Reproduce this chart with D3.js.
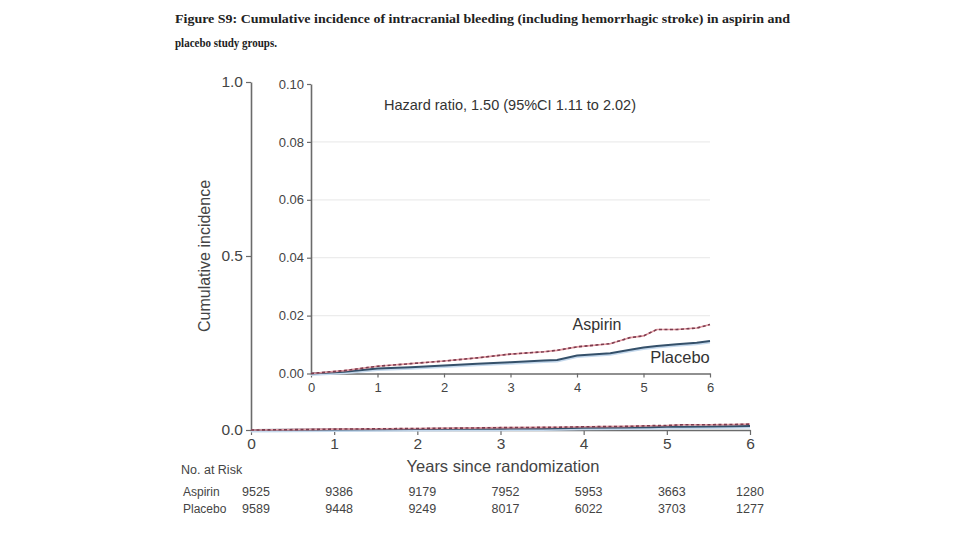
<!DOCTYPE html>
<html>
<head>
<meta charset="utf-8">
<script src="https://cdn.jsdelivr.net/npm/d3@7"></script>
<style>
  body { margin: 0; background: #fff; }
  svg { font-family: "Liberation Sans", Arial, sans-serif; }
</style>
</head>
<body>
<svg id="chart" width="960" height="540"></svg>
<script>
// data
const years = [0, 0.5, 1, 1.5, 2, 2.5, 3, 3.5, 3.7, 4, 4.5, 4.8, 5, 5.2, 5.5, 5.8, 6];
const aspirin = [0, 0.0010, 0.0025, 0.0034, 0.0043, 0.0054, 0.0067, 0.0075, 0.0080, 0.0092, 0.0103, 0.0124, 0.0130, 0.0152, 0.0152, 0.0157, 0.0169];
const placebo = [0, 0.0006, 0.0017, 0.0022, 0.0028, 0.0034, 0.0039, 0.0045, 0.0047, 0.0062, 0.0070, 0.0082, 0.0090, 0.0095, 0.0101, 0.0106, 0.0112];

const riskYears = [0, 1, 2, 3, 4, 5, 6];
const riskAspirin = [9525, 9386, 9179, 7952, 5953, 3663, 1280];
const riskPlacebo = [9589, 9448, 9249, 8017, 6022, 3703, 1277];

const mainYTicks = [0, 0.5, 1.0];
const insetYTicks = [0, 0.02, 0.04, 0.06, 0.08, 0.10];
const gridTicks = [0.02, 0.04, 0.06, 0.08];

const svg = d3.select('#chart');
const axisColor = '#6b6b6b';
const textColor = '#444';

// Title
svg.append('text')
  .attr('x', 175).attr('y', 23)
  .attr('font-family', '"Liberation Serif", "Times New Roman", serif')
  .attr('font-weight', 'bold').attr('font-size', '11.5px').attr('fill', '#222')
  .attr('textLength', 615).attr('lengthAdjust', 'spacingAndGlyphs')
  .text('Figure S9: Cumulative incidence of intracranial bleeding (including hemorrhagic stroke) in aspirin and');
svg.append('text')
  .attr('x', 175).attr('y', 47)
  .attr('font-family', '"Liberation Serif", "Times New Roman", serif')
  .attr('font-weight', 'bold').attr('font-size', '11.5px').attr('fill', '#222')
  .attr('textLength', 102).attr('lengthAdjust', 'spacingAndGlyphs')
  .text('placebo study groups.');

// Main plot scales
const x = d3.scaleLinear().domain([0, 6]).range([251, 750]);
const y = d3.scaleLinear().domain([0, 1]).range([430, 82]);

// Inset scales
const xi = d3.scaleLinear().domain([0, 6]).range([311, 710]);
const yi = d3.scaleLinear().domain([0, 0.10]).range([373.5, 84]);

function styleAxis(g, size) {
  g.select('.domain').attr('stroke', axisColor).attr('stroke-width', 1.6);
  g.selectAll('.tick line').attr('stroke', axisColor).attr('stroke-width', 1.2);
  g.selectAll('.tick text').attr('fill', textColor).attr('font-size', size)
    .attr('font-family', '"Liberation Sans", Arial, sans-serif');
}

// Main axes
const gxMain = svg.append('g')
  .attr('transform', 'translate(0,430)')
  .call(d3.axisBottom(x).tickValues(riskYears).tickFormat(d3.format('d')).tickSize(5).tickSizeOuter(0).tickPadding(3));
styleAxis(gxMain, '15.5px');

const gyMain = svg.append('g')
  .attr('transform', 'translate(251,0)')
  .call(d3.axisLeft(y).tickValues(mainYTicks).tickFormat(d3.format('.1f')).tickSize(5).tickSizeOuter(0).tickPadding(3));
styleAxis(gyMain, '15.5px');

svg.append('text')
  .attr('transform', 'translate(210,256) rotate(-90)')
  .attr('text-anchor', 'middle').attr('font-size', '16px').attr('fill', textColor)
  .text('Cumulative incidence');

svg.append('text')
  .attr('x', 503).attr('y', 472)
  .attr('text-anchor', 'middle').attr('font-size', '16.5px').attr('fill', textColor)
  .text('Years since randomization');

// Inset gridlines
svg.append('g').selectAll('line')
  .data(gridTicks)
  .join('line')
  .attr('x1', xi(0)).attr('x2', xi(6))
  .attr('y1', d => yi(d)).attr('y2', d => yi(d))
  .attr('stroke', '#ececec').attr('stroke-width', 1.2);

// Inset axes
const gxIn = svg.append('g')
  .attr('transform', `translate(0,${yi(0)})`)
  .call(d3.axisBottom(xi).tickValues(riskYears).tickFormat(d3.format('d')).tickSize(4).tickSizeOuter(0).tickPadding(5));
styleAxis(gxIn, '13px');

const gyIn = svg.append('g')
  .attr('transform', `translate(${xi(0)},0)`)
  .call(d3.axisLeft(yi).tickValues(insetYTicks).tickFormat(d3.format('.2f')).tickSize(4).tickSizeOuter(0).tickPadding(3));
styleAxis(gyIn, '13px');

svg.append('text')
  .attr('x', 510).attr('y', 110)
  .attr('text-anchor', 'middle').attr('font-size', '14.5px').attr('fill', '#333')
  .text('Hazard  ratio, 1.50 (95%CI 1.11 to 2.02)');

// Curves
function drawCurves(xs, ys, shadowOffset) {
  const line = d3.line().x((d, i) => xs(years[i])).y(d => ys(d));
  // placebo: light shadow + solid dark line
  svg.append('path').datum(placebo)
    .attr('d', line).attr('fill', 'none')
    .attr('stroke', '#c4d8ec').attr('stroke-width', 2)
    .attr('transform', `translate(0,${shadowOffset})`);
  svg.append('path').datum(placebo)
    .attr('d', line).attr('fill', 'none')
    .attr('stroke', '#34506a').attr('stroke-width', 2);
  // aspirin: faint red under dark dashes
  svg.append('path').datum(aspirin)
    .attr('d', line).attr('fill', 'none')
    .attr('stroke', '#e39aa2').attr('stroke-width', 1.6);
  svg.append('path').datum(aspirin)
    .attr('d', line).attr('fill', 'none')
    .attr('stroke', '#7a3c4e').attr('stroke-width', 1.6)
    .attr('stroke-dasharray', '3,2.5');
}

drawCurves(x, y, 1.5);
drawCurves(xi, yi, 1.5);

svg.append('text')
  .attr('x', 597).attr('y', 330)
  .attr('text-anchor', 'middle').attr('font-size', '16px').attr('fill', '#333')
  .text('Aspirin');
svg.append('text')
  .attr('x', 680).attr('y', 363)
  .attr('text-anchor', 'middle').attr('font-size', '16.5px').attr('fill', '#333')
  .text('Placebo');

// Number at risk table
svg.append('text')
  .attr('x', 181).attr('y', 474)
  .attr('font-size', '12.5px').attr('fill', textColor)
  .text('No. at Risk');

const rows = [
  { label: 'Aspirin', values: riskAspirin, y: 496 },
  { label: 'Placebo', values: riskPlacebo, y: 513 }
];

rows.forEach(row => {
  svg.append('text')
    .attr('x', 183).attr('y', row.y)
    .attr('font-size', '12px').attr('fill', textColor)
    .text(row.label);
  svg.append('g').selectAll('text')
    .data(row.values)
    .join('text')
    .attr('x', (d, i) => x(riskYears[i]) + (i === 6 ? 0 : 5))
    .attr('y', row.y)
    .attr('text-anchor', 'middle')
    .attr('font-size', '12.5px').attr('fill', textColor)
    .text(d => d);
});
</script>
</body>
</html>
